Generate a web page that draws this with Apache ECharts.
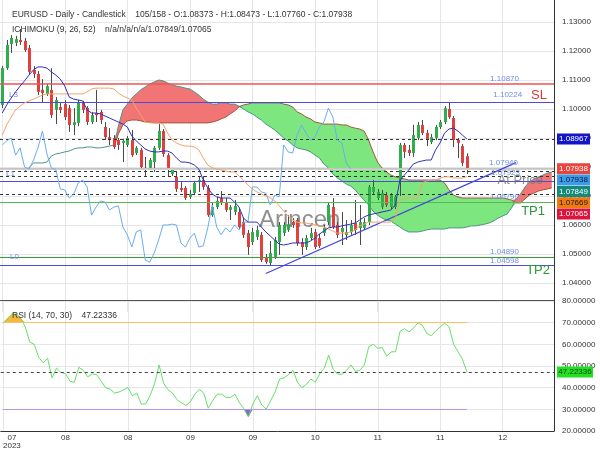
<!DOCTYPE html>
<html><head><meta charset="utf-8">
<script src="https://cdn.jsdelivr.net/npm/echarts@6/dist/echarts.min.js"></script>
<style>html,body{margin:0;padding:0;background:#fff}#c{width:600px;height:450px}</style>
</head><body><div id="c"></div>
<script>
const titleMain = 'EURUSD - Daily - Candlestick    105/158 - O:1.08373 - H:1.08473 - L:1.07760 - C:1.07938';
const titleIchi = 'ICHIMOKU (9, 26, 52)    n/a/n/a/n/a/1.07849/1.07065';
const titleRsi = 'RSI (14, 70, 30)    47.22336';
const tickLabels = ['07','08','08','09','09','10','11','11','12'];
const tickYear = '2023';
const tickStep = 14;
const slotCount = 124;
const watermark = 'Arincen';
const priceMin = 1.03, priceMax = 1.137586, priceStep = 0.01;

// [open, close, low, high]
const candles = [
[1.1014,1.1141,1.1003,1.1148],[1.1141,1.1221,1.1135,1.1238],[1.1224,1.1245,1.1193,1.1255],[1.1228,1.1241,1.1217,1.1252],[1.1238,1.1231,1.1221,1.1276],
[1.1235,1.1203,1.1197,1.1245],[1.1210,1.1128,1.1117,1.1221],[1.1135,1.1121,1.1107,1.1148],[1.1121,1.1059,1.1048,1.1131],[1.1066,1.1055,1.1024,1.1103],
[1.1052,1.1079,1.1045,1.1086],[1.1066,1.0979,1.0969,1.1141],[1.0997,1.1031,1.0948,1.1041],[1.1007,1.0997,1.0986,1.1021],[1.1017,1.0972,1.0962,1.1031],
[1.1003,1.0945,1.0921,1.1014],[1.0945,1.0955,1.0910,1.1003],[1.0952,1.1024,1.0941,1.1031],[1.1021,1.0997,1.0986,1.1028],[1.1003,1.0955,1.0945,1.1010],
[1.0955,1.0979,1.0948,1.0990],[1.0986,1.0979,1.0955,1.1066],[1.0990,1.0962,1.0948,1.0997],[1.0938,1.0903,1.0893,1.0955],[1.0903,1.0893,1.0876,1.0934],
[1.0900,1.0869,1.0862,1.0910],[1.0893,1.0876,1.0859,1.0900],[1.0883,1.0890,1.0817,1.0897],[1.0876,1.0900,1.0869,1.0907],[1.0893,1.0841,1.0835,1.0928],
[1.0848,1.0866,1.0841,1.0872],[1.0859,1.0800,1.0793,1.0866],[1.0797,1.0793,1.0769,1.0835],[1.0797,1.0824,1.0790,1.0831],[1.0817,1.0866,1.0783,1.0872],
[1.0866,1.0924,1.0859,1.0948],[1.0924,1.0845,1.0835,1.0931],[1.0841,1.0797,1.0766,1.0848],[1.0776,1.0790,1.0769,1.0797],[1.0766,1.0724,1.0714,1.0783],
[1.0728,1.0721,1.0714,1.0748],[1.0728,1.0693,1.0686,1.0734],[1.0697,1.0707,1.0690,1.0721],[1.0710,1.0745,1.0703,1.0752],[1.0748,1.0755,1.0714,1.0766],
[1.0755,1.0731,1.0721,1.0769],[1.0728,1.0634,1.0628,1.0738],[1.0634,1.0662,1.0628,1.0676],[1.0662,1.0683,1.0655,1.0697],[1.0693,1.0679,1.0669,1.0717],
[1.0679,1.0652,1.0645,1.0693],[1.0652,1.0662,1.0617,1.0669],[1.0645,1.0666,1.0634,1.0686],[1.0645,1.0593,1.0586,1.0659],[1.0610,1.0566,1.0555,1.0624],
[1.0572,1.0524,1.0497,1.0583],[1.0541,1.0576,1.0531,1.0590],[1.0559,1.0583,1.0548,1.0597],[1.0566,1.0479,1.0472,1.0576],[1.0486,1.0472,1.0466,1.0500],
[1.0469,1.0503,1.0462,1.0545],[1.0490,1.0548,1.0483,1.0559],[1.0541,1.0600,1.0497,1.0610],[1.0572,1.0600,1.0562,1.0610],[1.0583,1.0603,1.0576,1.0634],
[1.0610,1.0600,1.0590,1.0624],[1.0617,1.0538,1.0528,1.0624],[1.0541,1.0524,1.0497,1.0555],[1.0524,1.0555,1.0514,1.0566],[1.0555,1.0572,1.0548,1.0590],
[1.0576,1.0524,1.0517,1.0586],[1.0555,1.0528,1.0521,1.0569],[1.0572,1.0590,1.0562,1.0600],[1.0610,1.0669,1.0600,1.0676],[1.0662,1.0593,1.0586,1.0693],
[1.0600,1.0566,1.0555,1.0610],[1.0576,1.0590,1.0531,1.0645],[1.0566,1.0576,1.0548,1.0617],[1.0576,1.0600,1.0566,1.0617],[1.0607,1.0583,1.0566,1.0686],
[1.0590,1.0610,1.0531,1.0669],[1.0590,1.0610,1.0583,1.0624],[1.0610,1.0731,1.0600,1.0738],[1.0714,1.0731,1.0707,1.0755],[1.0693,1.0714,1.0686,1.0724],
[1.0662,1.0710,1.0655,1.0721],[1.0703,1.0669,1.0662,1.0714],[1.0662,1.0703,1.0655,1.0710],[1.0662,1.0697,1.0655,1.0703],[1.0755,1.0876,1.0700,1.0883],
[1.0876,1.0852,1.0831,1.0883],[1.0859,1.0848,1.0838,1.0876],[1.0848,1.0910,1.0835,1.0945],[1.0900,1.0945,1.0893,1.0955],[1.0945,1.0917,1.0910,1.0962],
[1.0917,1.0893,1.0872,1.0928],[1.0886,1.0903,1.0879,1.0914],[1.0900,1.0938,1.0893,1.0945],[1.0938,1.0955,1.0931,1.0962],[1.0955,1.1003,1.0948,1.1010],
[1.1000,1.0972,1.0966,1.1024],[1.0969,1.0893,1.0869,1.0976],[1.0893,1.0883,1.0831,1.0900],[1.0872,1.0814,1.0803,1.0879],[1.08373,1.07938,1.07760,1.08473]
];

const tenkan = [
1.0986,1.1014,1.1038,1.1059,1.1079,1.1097,1.1117,1.1135,1.1145,1.1145,
1.1141,1.1128,1.1117,1.1103,1.1079,1.1041,1.1034,1.1031,1.1028,1.0997,
1.0986,1.0986,1.0983,1.0976,1.0969,1.0962,1.0955,1.0948,1.0938,1.0907,
1.0890,1.0876,1.0862,1.0855,1.0852,1.0852,1.0855,1.0855,1.0848,1.0831,
1.0817,1.0817,1.0814,1.0807,1.0793,1.0755,1.0728,1.0707,1.0697,1.0693,
1.0693,1.0693,1.0679,1.0662,1.0624,1.0610,1.0610,1.0610,1.0593,1.0576,
1.0562,1.0548,1.0534,1.0531,1.0534,1.0538,1.0538,1.0538,1.0538,1.0545,
1.0555,1.0569,1.0579,1.0590,1.0593,1.0593,1.0597,1.0600,1.0603,1.0607,
1.0617,1.0628,1.0634,1.0638,1.0641,1.0645,1.0648,1.0652,1.0669,1.0755,
1.0772,1.0790,1.0810,1.0817,1.0821,1.0824,1.0824,1.0859,1.0883,1.0917,
1.0931,1.0934,1.0924,1.0910,1.08967];

const kijun = [
1.0910,1.0945,1.0972,1.0997,1.1010,1.1021,1.1028,1.1034,1.1041,1.1048,
1.1052,1.1052,1.1052,1.1052,1.1052,1.1052,1.1052,1.1052,1.1052,1.1059,
1.1069,1.1072,1.1072,1.1072,1.1072,1.1069,1.1055,1.1045,1.1038,1.1031,
1.1003,1.0979,1.0955,1.0952,1.0952,1.0952,1.0948,1.0917,1.0893,1.0883,
1.0876,1.0872,1.0872,1.0869,1.0859,1.0831,1.0807,1.0797,1.0793,1.0790,
1.0786,1.0783,1.0783,1.0769,1.0755,1.0738,1.0724,1.0714,1.0707,1.0700,
1.0693,1.0683,1.0666,1.0648,1.0631,1.0617,1.0610,1.0607,1.0607,1.0603,
1.0600,1.0597,1.0593,1.0586,1.0579,1.0572,1.0572,1.0572,1.0576,1.0583,
1.0597,1.0603,1.0610,1.0610,1.0610,1.0610,1.0610,1.0610,1.0624,1.0686,
1.0693,1.0693,1.0693,1.0693,1.0745,1.0752,1.0755,1.0755,1.0762,1.0766,
1.0766,1.0762,1.0762,1.0762,1.07669];

const spanAStart = 5;
const spanA = [
1.0786,1.0797,1.0814,1.0814,1.0814,1.0817,1.0838,1.0845,1.0848,1.0852,
1.0855,1.0862,1.0866,1.0866,1.0869,1.0869,1.0866,1.0866,1.0869,1.0872,
1.0876,1.0941,1.0997,1.1017,1.1038,1.1052,1.1066,1.1076,1.1086,1.1093,
1.1100,1.1097,1.1090,1.1083,1.1079,1.1076,1.1072,1.1069,1.1059,1.1048,
1.1034,1.1024,1.1017,1.1017,1.1021,1.1021,1.1017,1.1017,1.1010,1.1000,
1.0990,1.0983,1.0972,1.0962,1.0948,1.0938,1.0928,1.0914,1.0900,1.0890,
1.0876,1.0866,1.0862,1.0859,1.0852,1.0841,1.0831,1.0810,1.0797,1.0776,
1.0762,1.0752,1.0741,1.0734,1.0721,1.0703,1.0686,1.0669,1.0648,1.0634,
1.0624,1.0617,1.0614,1.0603,1.0593,1.0583,1.0576,1.0576,1.0576,1.0579,
1.0583,1.0586,1.0586,1.0586,1.0586,1.0590,1.0590,1.0590,1.0590,1.0593,
1.0597,1.0597,1.0600,1.0603,1.0607,1.0614,1.0624,1.0631,1.0638,1.0659,
1.0690,1.0707,1.0731,1.0748,1.0759,1.0766,1.0772,1.0779,1.0783];

const spanBStart = 25;
const spanB = [
1.0869,1.0914,1.0945,1.0959,1.0962,1.0962,1.0959,1.0955,1.0955,1.0952,
1.0952,1.0952,1.0952,1.0952,1.0952,1.0952,1.0952,1.0952,1.0952,1.0952,
1.0952,1.0952,1.0955,1.0959,1.0966,1.0972,1.0983,1.0993,1.1007,1.1014,
1.1017,1.1021,1.1021,1.1021,1.1021,1.1021,1.1021,1.1021,1.1017,1.1014,
1.1007,1.0990,1.0983,1.0972,1.0966,1.0955,1.0952,1.0948,1.0948,1.0948,
1.0948,1.0945,1.0945,1.0938,1.0934,1.0931,1.0924,1.0893,1.0852,1.0817,
1.0797,1.0783,1.0772,1.0766,1.0762,1.0759,1.0755,1.0755,1.0755,1.0755,
1.0755,1.0755,1.0755,1.0755,1.0745,1.0721,1.0703,1.0697,1.0693,1.0693,
1.0693,1.0693,1.0693,1.0693,1.0693,1.0693,1.0693,1.0693,1.0690,1.0686,
1.0676,1.0676,1.0690,1.0703,1.0710,1.0717,1.0721,1.0724,1.0728];

const chikouShift = 26;

const rsi = [
69.6,72,74,74,72,68,61,60,54,51.5,
53.5,44.5,49,47,46.5,43,42.5,49.4,48,45,
46.4,46,43,40,39.4,37.5,38,39,40,36.3,
37.5,32.4,32.5,36.5,42,50.5,42,39,37.5,34.5,
33,31.8,33.5,37,39.2,37.5,30.5,34,37,37,
35.5,35.5,37,33,30.2,26.5,32.5,36.3,32,30.1,
34,38,44,44.5,46,48,42.5,40,41.5,44,
42.5,46.5,49,55,48.5,46.3,46.2,48,50.5,47.5,
48,50.5,59,60,58.2,58.5,54.5,56.5,56.6,66,
67.2,65.7,67.5,69.9,68.8,65,64,66.2,68,69.8,
68,60,56.6,53,47.22336];
const rsiHigh = 70, rsiLow = 30, rsiLast = 47.22336;

const slLevel = 1.10870, l3Level = 1.10224, tenkanLast = 1.08967, l1Level = 1.07940, entryLevel = 1.07923;
const spanALast = 1.07849, kijunLast = 1.07669, atPriceLevel = 1.07520, spanBLast = 1.07065;
const tp1Level = 1.06790, l0Level = 1.04890, tp2Level = 1.04598;
const trendStart = [59, 1.0433], trendEnd = [115, 1.0815];
const tagValues = [1.08967, 1.07938, 1.07938, 1.07849, 1.07669, 1.07065];

// ---------------------------------------------------------------
const FONT = 'Liberation Sans, Arial, sans-serif';
const numColor = '#6f8ee6';
const blueLine = '#4b4bd8';
const fmt = v => v.toFixed(5);
const N = slotCount;
const cats = Array.from({length: N}, (_, i) => String(i));
const pad = (arr, start) => { const o = new Array(N).fill(null); arr.forEach((v, k) => { if (start + k < N) o[start + k] = v; }); return o; };
const A = pad(spanA, spanAStart), B = pad(spanB, spanBStart);
const has = i => A[i] != null && B[i] != null;
const cloudBase = A.map((a, i) => has(i) ? Math.min(a, B[i]) : null);
const cloudGreen = A.map((a, i) => has(i) ? (B[i] > a ? B[i] - a : 0) : null);
const cloudRed = A.map((a, i) => has(i) ? (a >= B[i] ? a - B[i] : 0) : null);
const closes = candles.map(c => c[1]);
const chikou = pad(closes.slice(chikouShift), 0);
const candleData = candles.map((c, i) => [i, c[0], c[1], c[2], c[3]]);

function lvl(v, color, type, width, label) {
  return {
    yAxis: v,
    lineStyle: color ? {color: color, type: type, width: width} : {color: 'rgba(0,0,0,0)', width: 1, type: 'solid'},
    label: label ? Object.assign({show: true, fontSize: 8, fontFamily: FONT, color: numColor}, label) : {show: false}
  };
}
const txt = s => () => s;

const mainMarks = [
  lvl(slLevel, '#ee5555', 'solid', 1.5, {position: 'insideEndTop', formatter: txt(fmt(slLevel)), padding: [0, 34, 0, 0], distance: 1}),
  lvl(l3Level, blueLine, 'solid', 1.2, {position: 'insideEndTop', formatter: txt('{n|' + fmt(l3Level) + '}    {s|SL}'),
      rich: {n: {fontSize: 8, color: numColor, fontFamily: FONT}, s: {fontSize: 13, color: '#e03535', fontFamily: FONT}}, padding: [0, 6, 0, 0], distance: 1}),
  lvl(l3Level, null, null, 0, {position: 'insideStartTop', formatter: txt('L3'), padding: [0, 0, 0, 5], distance: 4}),
  lvl(tenkanLast, '#333', [3, 3], 1),
  lvl(l1Level, '#c4c4c4', 'solid', 1, {position: 'insideEndTop', formatter: txt(fmt(l1Level)), padding: [0, 34, 0, 0], distance: 2}),
  lvl(l1Level, null, null, 0, {position: 'insideStartBottom', formatter: txt('L1'), padding: [0, 0, 0, 5], distance: 1}),
  lvl(entryLevel, '#cfcfcf', 'solid', 1, {position: 'insideEndBottom', formatter: txt(fmt(entryLevel)), padding: [0, 34, 0, 0], distance: 0}),
  lvl(spanALast, '#333', [3, 3], 1),
  lvl(kijunLast, '#333', [3, 3], 1),
  lvl(atPriceLevel, blueLine, 'solid', 1.2, {position: 'insideEnd', formatter: txt('At Price'), fontSize: 13, color: 'rgba(120,120,120,0.85)', padding: [0, 6, 0, 0]}),
  lvl(spanBLast, '#333', [3, 3], 1),
  lvl(tp1Level, '#55bb55', 'solid', 1.2, {position: 'insideEndTop', formatter: txt(fmt(tp1Level)), padding: [0, 34, 0, 0], distance: 1}),
  lvl(tp1Level, null, null, 0, {position: 'insideEndBottom', formatter: txt('TP1'), fontSize: 13, color: '#2a9a3a', padding: [0, 6, 0, 0], distance: 3}),
  lvl(l0Level, '#3c9c3c', 'solid', 1.2, {position: 'insideEndTop', formatter: txt(fmt(l0Level)), padding: [0, 34, 0, 0], distance: 1}),
  lvl(l0Level, null, null, 0, {position: 'insideStart', formatter: txt('L0'), padding: [0, 0, 0, 5]}),
  lvl(tp2Level, blueLine, 'solid', 1.2, {position: 'insideEndTop', formatter: txt(fmt(tp2Level)), padding: [0, 34, 0, 0], distance: 1}),
  lvl(tp2Level, null, null, 0, {position: 'insideEndBottom', formatter: txt('TP2'), fontSize: 13, color: '#2a9a3a', padding: [0, 6, 0, 0], distance: -2}),
  [{coord: trendStart, lineStyle: {color: '#4444dd', width: 1.2, type: 'solid'}, label: {show: false}}, {coord: trendEnd}]
];

const lineSeries = (name, data, color, z) => ({
  name: name, type: 'line', data: data, symbol: 'none', xAxisIndex: 0, yAxisIndex: 0,
  lineStyle: {color: color, width: 1}, silent: true, z: z || 3, connectNulls: false
});
const bandSeries = (name, data, fill) => ({
  name: name, type: 'line', data: data, stack: 'cloud', symbol: 'none', xAxisIndex: 0, yAxisIndex: 0,
  lineStyle: {width: 0, opacity: 0}, areaStyle: fill ? {color: fill, opacity: 1} : undefined, silent: true, z: 1
});

const option = {
  animation: false,
  backgroundColor: '#fff',
  textStyle: {fontFamily: FONT},
  title: [
    {text: titleMain, left: 7, top: 5, textStyle: {fontSize: 8.5, fontWeight: 'normal', color: '#333', fontFamily: FONT}},
    {text: titleIchi, left: 7, top: 20, textStyle: {fontSize: 8.5, fontWeight: 'normal', color: '#333', fontFamily: FONT}},
    {text: titleRsi, left: 7, top: 306, textStyle: {fontSize: 8.5, fontWeight: 'normal', color: '#333', fontFamily: FONT}}
  ],
  grid: [
    {left: 0, right: 46, top: 0, height: 312},
    {left: 0, right: 46, top: 301, height: 130}
  ],
  xAxis: [
    {type: 'category', gridIndex: 0, data: cats, boundaryGap: true,
     axisLine: {show: false}, axisTick: {show: false, interval: tickStep - 1, alignWithLabel: true}, axisLabel: {show: false, interval: tickStep - 1},
     splitLine: {show: true, interval: tickStep - 1, alignWithLabel: true, lineStyle: {color: '#e6e6e6'}}},
    {type: 'category', gridIndex: 1, data: cats, boundaryGap: true,
     axisLine: {show: true, lineStyle: {color: '#333'}}, axisTick: {show: false, interval: tickStep - 1, alignWithLabel: true},
     axisLabel: {interval: tickStep - 1, fontSize: 8, color: '#333', margin: 3, alignMinLabel: 'left', fontFamily: FONT,
       formatter: (v, i) => { const k = Math.round(i / tickStep); return i === 0 ? '  ' + tickLabels[0] + '\n' + tickYear : (tickLabels[k] || ''); }},
     splitLine: {show: true, interval: tickStep - 1, alignWithLabel: true, lineStyle: {color: '#e6e6e6'}}}
  ],
  yAxis: [
    {type: 'value', gridIndex: 0, position: 'right', min: priceMin, max: priceMax, interval: priceStep,
     axisLine: {show: true, lineStyle: {color: '#333'}}, axisTick: {show: false},
     axisLabel: {fontSize: 8, color: '#333', margin: 8, formatter: v => v.toFixed(5), showMinLabel: false, showMaxLabel: false, fontFamily: FONT},
     splitLine: {show: true, showMinLine: false, showMaxLine: false, lineStyle: {color: '#e6e6e6'}}},
    {type: 'value', gridIndex: 1, position: 'right', min: 20, max: 80, interval: 10,
     axisLine: {show: true, lineStyle: {color: '#333'}}, axisTick: {show: false},
     axisLabel: {fontSize: 8, color: '#333', margin: 8, formatter: v => v.toFixed(5), fontFamily: FONT},
     splitLine: {show: true, lineStyle: {color: '#e6e6e6'}}}
  ],
  series: [
    bandSeries('cloudBase', cloudBase, null),
    bandSeries('cloudGreen', cloudGreen, '#7ee67e'),
    bandSeries('cloudRed', cloudRed, '#f27575'),
    lineSeries('Senkou A', A, '#4e9488', 2),
    lineSeries('Senkou B', B, '#a0583a', 2),
    {
      name: 'EURUSD', type: 'custom', xAxisIndex: 0, yAxisIndex: 0, data: candleData, clip: true, z: 4, silent: true,
      encode: {x: 0, y: [1, 2, 3, 4]},
      renderItem: (params, api) => {
        const i = api.value(0), o = api.value(1), c = api.value(2), l = api.value(3), h = api.value(4);
        const pO = api.coord([i, o]), pC = api.coord([i, c]), pL = api.coord([i, l]), pH = api.coord([i, h]);
        const x = Math.round(pO[0]);
        const top = Math.min(pO[1], pC[1]), bot = Math.max(pO[1], pC[1]);
        return {type: 'group', children: [
          {type: 'line', shape: {x1: x + 0.5, y1: pH[1], x2: x + 0.5, y2: pL[1]}, style: {stroke: '#4a4a4a', lineWidth: 1}},
          {type: 'rect', shape: {x: x - 1, y: top, width: 3, height: Math.max(bot - top, 1)}, style: {fill: c >= o ? '#2fae4e' : '#e23f3f'}}
        ]};
      }
    },
    lineSeries('Chikou', chikou, '#6aaef0', 5),
    lineSeries('Kijun', pad(kijun, 0), '#f2a46a', 5),
    Object.assign(lineSeries('Tenkan', pad(tenkan, 0), '#2f2fc0', 6), {
      markLine: {symbol: ['none', 'none'], silent: true, animation: false, precision: 5, data: mainMarks}
    }),
    {name: 'rsiOver', type: 'line', xAxisIndex: 1, yAxisIndex: 1, data: rsi.map(v => Math.max(v, rsiHigh)), symbol: 'none',
     lineStyle: {width: 0, opacity: 0}, areaStyle: {color: '#f5b73d', origin: rsiHigh, opacity: 1}, silent: true, z: 2},
    {name: 'rsiUnder', type: 'line', xAxisIndex: 1, yAxisIndex: 1, data: rsi.map(v => Math.min(v, rsiLow)), symbol: 'none',
     lineStyle: {width: 0, opacity: 0}, areaStyle: {color: '#8a63d2', origin: rsiLow, opacity: 1}, silent: true, z: 2},
    {name: 'RSI', type: 'line', xAxisIndex: 1, yAxisIndex: 1, data: rsi, symbol: 'none', silent: true, z: 4,
     lineStyle: {color: '#66e066', width: 1},
     markLine: {symbol: ['none', 'none'], silent: true, animation: false, precision: 5, label: {show: false}, data: [
       [{coord: [0, rsiHigh], lineStyle: {color: '#f6c267', width: 1.2, type: 'solid'}}, {coord: [rsi.length - 1, rsiHigh]}],
       [{coord: [0, rsiLow], lineStyle: {color: '#b596ee', width: 1.2, type: 'solid'}}, {coord: [rsi.length - 1, rsiLow]}],
       {yAxis: rsiLast, lineStyle: {color: '#444', type: [3, 3], width: 1}}
     ]}}
  ]
};

const chart = echarts.init(document.getElementById('c'), null, {renderer: 'canvas', width: 600, height: 450});
chart.setOption(option);

const tagColors = [['#1414c8', '#ffffff'], ['#e8453c', '#ffffff'], ['#3d9be9', '#0a1a3a'], ['#138a7c', '#ffffff'], ['#f07a10', '#1a1a1a'], ['#dc143c', '#ffffff']];
const graphics = [
  {type: 'line', shape: {x1: 0, y1: 300.5, x2: 554, y2: 300.5}, style: {stroke: '#555', lineWidth: 1}, z: 50},
  {type: 'text', x: 259, y: 208, z: 1, style: {text: watermark, font: '24px ' + FONT, fill: 'rgba(95,95,95,0.7)'}}
];
let prev = -1e9;
tagValues.forEach((v, k) => {
  let y = chart.convertToPixel({yAxisIndex: 0}, v);
  if (y < prev + 11.3) y = prev + 11.3;
  prev = y;
  graphics.push({type: 'rect', z: 100, shape: {x: 557, y: y - 5.5, width: 33, height: 11}, style: {fill: tagColors[k][0]}});
  graphics.push({type: 'text', z: 101, x: 573.5, y: y, style: {text: fmt(v), fill: tagColors[k][1], font: '8px ' + FONT, align: 'center', verticalAlign: 'middle', textAlign: 'center', textVerticalAlign: 'middle'}});
});
const ry = chart.convertToPixel({yAxisIndex: 1}, rsiLast);
graphics.push({type: 'rect', z: 100, shape: {x: 557, y: ry - 5.5, width: 36, height: 11}, style: {fill: '#22e022'}});
graphics.push({type: 'text', z: 101, x: 575, y: ry, style: {text: fmt(rsiLast), fill: '#114411', font: '8px ' + FONT, align: 'center', verticalAlign: 'middle', textAlign: 'center', textVerticalAlign: 'middle'}});
chart.setOption({graphic: graphics});
</script>
</body></html>
